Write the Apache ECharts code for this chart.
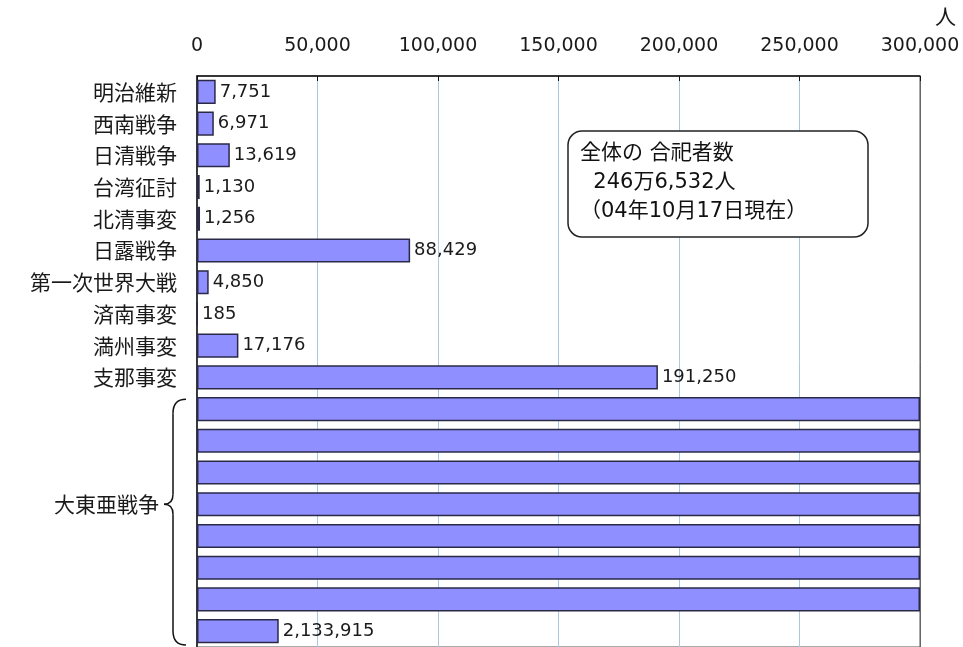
<!DOCTYPE html>
<html>
<head>
<meta charset="utf-8">
<script src="https://cdn.jsdelivr.net/npm/echarts@6/dist/echarts.min.js"></script>
<style>
  html, body { margin: 0; padding: 0; background: #fff; }
  #chart { width: 963px; height: 647px; }
</style>
</head>
<body>
<div id="chart"></div>
<script>
const categories = ['明治維新', '西南戦争', '日清戦争', '台湾征討', '北清事変', '日露戦争',
  '第一次世界大戦', '済南事変', '満州事変', '支那事変', '大東亜戦争']
const values = [7751, 6971, 13619, 1130, 1256, 88429, 4850, 185, 17176, 191250, 2133915]
const axisMax = 300000
const unitLabel = '人'
const noteLines = ['全体の 合祀者数', '  246万6,532人', '（04年10月17日現在）']

const CJK = '"Noto Sans CJK JP", sans-serif'
const NUM = '"DejaVu Sans", "Noto Sans CJK JP", sans-serif'
const fmt = v => v.toLocaleString('en-US')

// values larger than the axis wrap onto extra rows of full length
const rowKeys = []
const rowLabels = {}
const rowData = []
let wrapStart = -1, wrapEnd = -1
categories.forEach((name, i) => {
  const v = values[i]
  if (v <= axisMax) {
    rowKeys.push(name)
    rowLabels[name] = name
    rowData.push({ value: v, label: { formatter: fmt(v) } })
    return
  }
  const full = Math.floor(v / axisMax)
  const rows = full + 1
  const mid = Math.floor((rows - 1) / 2)
  wrapStart = rowKeys.length
  for (let k = 0; k < rows; k++) {
    const key = name + '#' + k
    rowKeys.push(k === mid ? { value: key, textStyle: { padding: [0, 18, 0, 0] } } : key)
    rowLabels[key] = k === mid ? name : ''
    if (k < full) rowData.push({ value: axisMax, label: { show: false } })
    else rowData.push({ value: v - full * axisMax, label: { formatter: fmt(v) } })
  }
  wrapEnd = rowKeys.length - 1
})

const chart = echarts.init(document.getElementById('chart'))

chart.setOption({
  animation: false,
  backgroundColor: '#fff',
  grid: {
    left: 197,
    right: 43,
    top: 76,
    height: 572,
    show: true,
    borderColor: '#555',
    borderWidth: 1
  },
  xAxis: {
    type: 'value',
    position: 'top',
    min: 0,
    max: axisMax,
    interval: 50000,
    axisLine: { show: true, lineStyle: { color: '#111', width: 1.5 } },
    axisTick: { show: true, inside: true, length: 5, lineStyle: { color: '#111' } },
    splitLine: {
      show: true,
      lineStyle: {
        color: ['#a9c9e2', '#a9c9e2', '#a9c9e2', '#a9c9e2', '#a9c9e2', '#a9c9e2', '#666'],
        width: 1
      }
    },
    axisLabel: {
      margin: 20,
      fontSize: 19,
      color: '#1a1a1a',
      fontFamily: NUM,
      formatter: v => fmt(v)
    }
  },
  yAxis: {
    type: 'category',
    inverse: true,
    data: rowKeys,
    axisLine: { show: true, lineStyle: { color: '#111', width: 1.5 } },
    axisTick: { show: false },
    splitLine: { show: false },
    axisLabel: {
      margin: 20,
      fontSize: 21,
      color: '#1a1a1a',
      fontFamily: CJK,
      interval: 0,
      formatter: v => rowLabels[v]
    }
  },
  series: [{
    type: 'bar',
    data: rowData,
    barCategoryGap: '24%',
    itemStyle: { color: '#8f8fff', borderColor: '#2a2a48', borderWidth: 1.5 },
    label: {
      show: true,
      position: 'right',
      distance: 4,
      fontSize: 18,
      color: '#1a1a1a',
      fontFamily: NUM
    }
  }]
})

const graphics = [
  {
    type: 'text',
    x: 935,
    y: 6,
    style: { text: unitLabel, fontSize: 21, fill: '#1a1a1a', fontFamily: CJK }
  },
  {
    type: 'rect',
    z: 100,
    shape: { x: 568, y: 131, width: 300, height: 106, r: 14 },
    style: { fill: '#fff', stroke: '#222', lineWidth: 1.5 }
  }
]
noteLines.forEach((t, i) => {
  graphics.push({
    type: 'text',
    z: 101,
    x: 580,
    y: 143 + i * 29,
    style: { text: t, fontSize: 21, fill: '#111', fontFamily: NUM }
  })
})

// brace around the wrapped rows, placed through the category scale
if (wrapStart >= 0) {
  const py = idx => chart.convertToPixel({ yAxisIndex: 0 }, rowKeys[idx].value || rowKeys[idx])
  const band = py(1) - py(0)
  const y1 = py(wrapStart) - band / 2 + 6
  const y2 = py(wrapEnd) + band / 2 - 2
  const ym = py(wrapStart + Math.floor((wrapEnd - wrapStart) / 2))
  const x0 = 186, xs = 173, xt = 164
  const st = { fill: 'none', stroke: '#111', lineWidth: 1.5 }
  graphics.push(
    { type: 'bezierCurve', shape: { x1: x0, y1: y1, cpx1: xs, cpy1: y1, x2: xs, y2: y1 + 14 }, style: st },
    { type: 'line', shape: { x1: xs, y1: y1 + 14, x2: xs, y2: ym - 10 }, style: st },
    { type: 'bezierCurve', shape: { x1: xs, y1: ym - 10, cpx1: xs, cpy1: ym, x2: xt, y2: ym }, style: st },
    { type: 'bezierCurve', shape: { x1: xt, y1: ym, cpx1: xs, cpy1: ym, x2: xs, y2: ym + 10 }, style: st },
    { type: 'line', shape: { x1: xs, y1: ym + 10, x2: xs, y2: y2 - 14 }, style: st },
    { type: 'bezierCurve', shape: { x1: xs, y1: y2 - 14, cpx1: xs, cpy1: y2, x2: x0, y2: y2 }, style: st }
  )
}

chart.setOption({ graphic: graphics })
</script>
</body>
</html>
